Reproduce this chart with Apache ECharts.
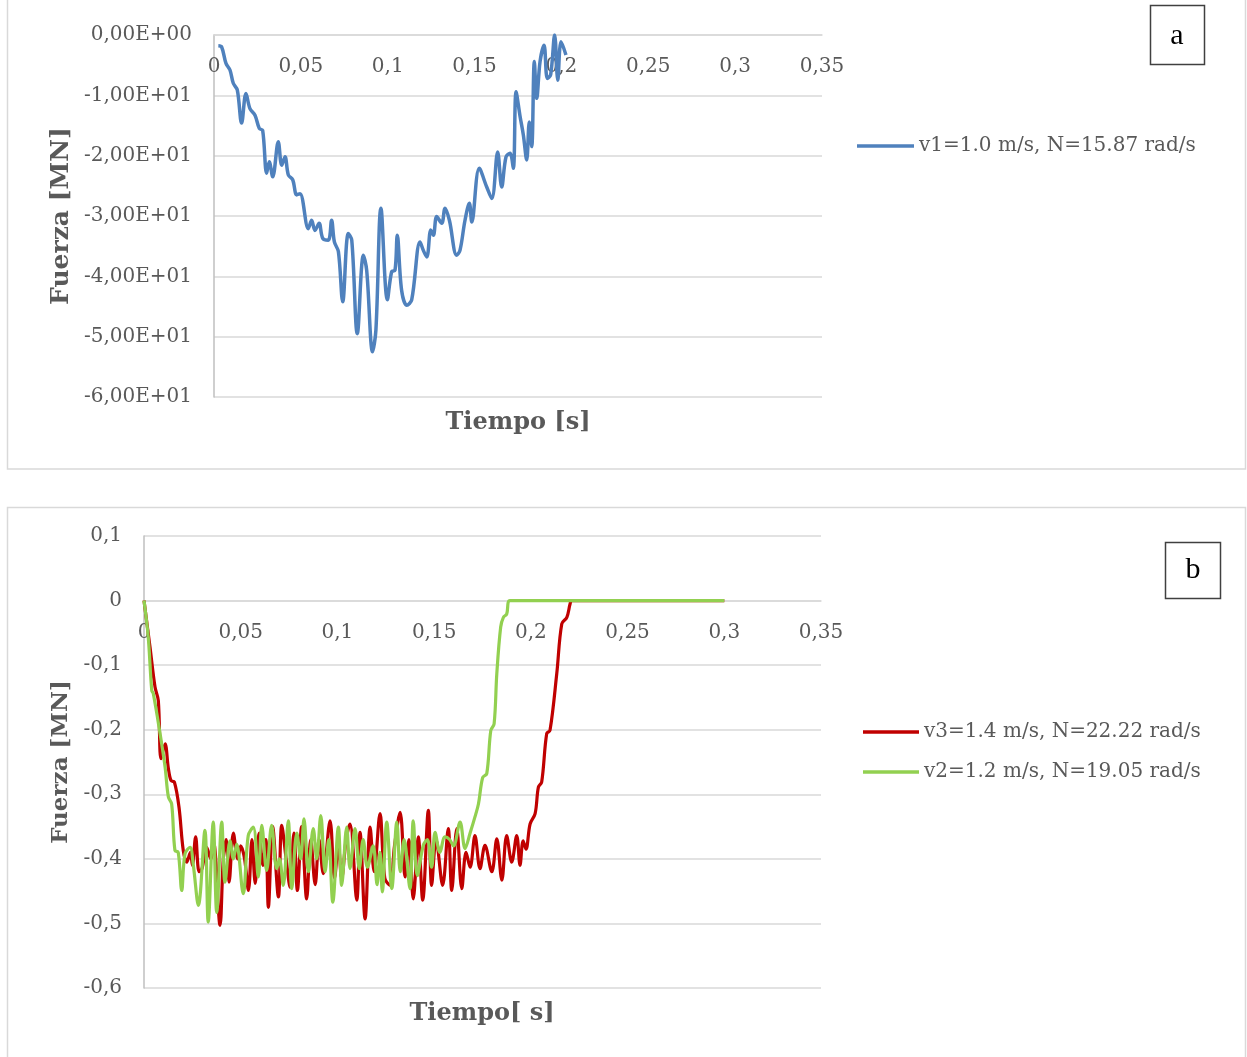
<!DOCTYPE html>
<html>
<head>
<meta charset="utf-8">
<title>Fuerza vs Tiempo</title>
<script src="https://cdn.jsdelivr.net/npm/echarts@6/dist/echarts.min.js"></script>
<style>
  html, body { margin: 0; padding: 0; background: #ffffff; }
  #chart { width: 1247px; height: 1057px; }
</style>
</head>
<body>
<div id="chart"></div>
<script>
// Panel a: force on the blade for v1
const timeA = [0.0025, 0.0044, 0.0069, 0.0092, 0.0111, 0.0134, 0.0159, 0.0184, 0.0207, 0.0236,
  0.0261, 0.0280, 0.0303, 0.0318, 0.0338, 0.0370, 0.0390, 0.0409, 0.0428, 0.0453,
  0.0476, 0.0495, 0.0543, 0.0562, 0.0581, 0.0605, 0.0626, 0.0658, 0.0677, 0.0693,
  0.0716, 0.0741, 0.0773, 0.0793, 0.0825, 0.0860, 0.0879, 0.0913, 0.0932, 0.0961,
  0.0998, 0.1023, 0.1042, 0.1055, 0.1080, 0.1110, 0.1138, 0.1186, 0.1205, 0.1225,
  0.1248, 0.1263, 0.1282, 0.1311, 0.1330, 0.1355, 0.1397, 0.1416, 0.1445, 0.1470,
  0.1484, 0.1527, 0.1570, 0.1599, 0.1633, 0.1656, 0.1681, 0.1704, 0.1723, 0.1739,
  0.1762, 0.1781, 0.1800, 0.1815, 0.1829, 0.1844, 0.1858, 0.1877, 0.1900, 0.1919,
  0.1938, 0.1961, 0.1979, 0.1998, 0.2026];
const forceA = [-1.8, -2.0, -4.7, -5.8, -8.0, -9.1, -14.6, -9.7, -12.2, -13.3,
  -15.5, -15.8, -22.9, -21.0, -23.5, -17.7, -21.6, -20.2, -23.2, -24.0,
  -26.5, -26.3, -32.1, -30.7, -32.4, -31.2, -33.7, -34.0, -30.7, -34.3,
  -35.9, -44.2, -32.9, -34.0, -49.5, -36.5, -39.0, -52.5, -48.9, -28.7,
  -43.9, -39.2, -39.0, -33.2, -42.3, -44.8, -43.9, -34.3, -35.7, -36.8,
  -32.3, -33.2, -30.1, -31.2, -28.7, -30.7, -36.5, -35.7, -30.7, -27.9,
  -31.0, -22.1, -25.2, -27.1, -19.4, -25.2, -20.2, -19.6, -22.1, -9.4,
  -13.5, -16.6, -20.7, -14.4, -18.5, -4.4, -10.5, -4.4, -1.7, -7.2,
  -6.6, 0.0, -7.5, -1.1, -3.3];

// Panel b: v3 (red)
const timeV3 = [0, 0.0031, 0.0057, 0.0074, 0.0088, 0.0109, 0.0126, 0.0140, 0.0157, 0.0181,
  0.0203, 0.0221, 0.0240, 0.0250, 0.0267, 0.0285, 0.0300, 0.0324, 0.0345, 0.0360,
  0.0393, 0.0410, 0.0425, 0.0440, 0.0462, 0.0485, 0.0500, 0.0520, 0.0540, 0.0558,
  0.0575, 0.0595, 0.0615, 0.0630, 0.0643, 0.0665, 0.0695, 0.0712, 0.0735, 0.0755,
  0.0775, 0.0793, 0.0815, 0.0841, 0.0862, 0.0885, 0.0905, 0.0927, 0.0962, 0.0985,
  0.1005, 0.1022, 0.1045, 0.1065, 0.1100, 0.1117, 0.1143, 0.1169, 0.1190, 0.1220,
  0.1245, 0.1272, 0.1295, 0.1324, 0.1350, 0.1370, 0.1392, 0.1418, 0.1441, 0.1470,
  0.1487, 0.1510, 0.1544, 0.1573, 0.1591, 0.1617, 0.1643, 0.1665, 0.1686, 0.1711,
  0.1737, 0.1763, 0.1798, 0.1824, 0.1850, 0.1875, 0.1901, 0.1927, 0.1944, 0.1960,
  0.1975, 0.1996, 0.2022, 0.2039, 0.2056, 0.2082, 0.2099, 0.2134, 0.2160, 0.2186,
  0.2203, 0.2211, 0.3000];
const forceV3 = [0, -0.072, -0.134, -0.155, -0.245, -0.222, -0.260, -0.279, -0.281, -0.320,
  -0.387, -0.405, -0.390, -0.410, -0.366, -0.420, -0.415, -0.382, -0.400, -0.375,
  -0.503, -0.400, -0.370, -0.436, -0.360, -0.400, -0.380, -0.400, -0.449, -0.370,
  -0.438, -0.360, -0.410, -0.370, -0.475, -0.350, -0.459, -0.348, -0.400, -0.444,
  -0.360, -0.449, -0.350, -0.462, -0.370, -0.440, -0.370, -0.423, -0.341, -0.430,
  -0.380, -0.430, -0.370, -0.346, -0.464, -0.359, -0.493, -0.351, -0.420, -0.330,
  -0.430, -0.441, -0.380, -0.328, -0.428, -0.370, -0.462, -0.366, -0.464, -0.325,
  -0.441, -0.370, -0.441, -0.353, -0.449, -0.353, -0.446, -0.390, -0.413, -0.364,
  -0.415, -0.379, -0.420, -0.369, -0.433, -0.364, -0.405, -0.364, -0.410, -0.372,
  -0.385, -0.346, -0.330, -0.289, -0.281, -0.206, -0.201, -0.113, -0.036, -0.026,
  -0.005, 0, 0];

// Panel b: v2 (green)
const timeV2 = [0, 0.0022, 0.0040, 0.0048, 0.0083, 0.0109, 0.0126, 0.0143, 0.0160, 0.0177,
  0.0195, 0.0212, 0.0238, 0.0255, 0.0281, 0.0315, 0.0332, 0.0358, 0.0376, 0.0402,
  0.0419, 0.0445, 0.0462, 0.0479, 0.0513, 0.0539, 0.0565, 0.0591, 0.0609, 0.0634,
  0.0660, 0.0686, 0.0700, 0.0720, 0.0746, 0.0764, 0.0790, 0.0810, 0.0827, 0.0850,
  0.0875, 0.0893, 0.0914, 0.0936, 0.0955, 0.0976, 0.1005, 0.1022, 0.1048, 0.1065,
  0.1091, 0.1113, 0.1133, 0.1155, 0.1185, 0.1205, 0.1220, 0.1232, 0.1255, 0.1281,
  0.1307, 0.1325, 0.1345, 0.1375, 0.1392, 0.1413, 0.1444, 0.1465, 0.1487, 0.1505,
  0.1530, 0.1556, 0.1580, 0.1600, 0.1634, 0.1660, 0.1686, 0.1711, 0.1729, 0.1751,
  0.1772, 0.1793, 0.1810, 0.1824, 0.1844, 0.1858, 0.1875, 0.1892, 0.3000];
const forceV2 = [0, -0.057, -0.139, -0.144, -0.206, -0.258, -0.304, -0.315, -0.387, -0.390,
  -0.449, -0.392, -0.382, -0.410, -0.472, -0.356, -0.498, -0.343, -0.483, -0.343,
  -0.436, -0.372, -0.400, -0.377, -0.454, -0.364, -0.351, -0.428, -0.348, -0.418,
  -0.348, -0.415, -0.400, -0.441, -0.341, -0.446, -0.360, -0.400, -0.338, -0.420,
  -0.353, -0.400, -0.333, -0.420, -0.370, -0.467, -0.351, -0.441, -0.351, -0.415,
  -0.353, -0.415, -0.370, -0.413, -0.380, -0.440, -0.390, -0.451, -0.343, -0.446,
  -0.343, -0.420, -0.370, -0.446, -0.341, -0.426, -0.379, -0.370, -0.413, -0.359,
  -0.390, -0.366, -0.370, -0.380, -0.343, -0.384, -0.360, -0.335, -0.315, -0.274,
  -0.268, -0.201, -0.191, -0.113, -0.041, -0.026, -0.021, 0, 0];

const nameA = 'v1=1.0 m/s, N=15.87 rad/s';
const nameV3 = 'v3=1.4 m/s, N=22.22 rad/s';
const nameV2 = 'v2=1.2 m/s, N=19.05 rad/s';

// axis ranges
const timeMin = 0, timeMax = 0.35, timeStep = 0.05;
const forceAMin = -60, forceAMax = 0, forceAStep = 10;
const forceBMin = -0.6, forceBMax = 0.1, forceBStep = 0.1;

const pairs = (xs, ys) => xs.map((x, i) => [x, ys[i]]);

const FONT = 'DejaVu Serif';
const TEXT = '#595959';
const GRID_LINE = '#d9d9d9';
const AXIS_LINE = '#bfbfbf';

const gridA = { left: 214, top: 35, width: 608, height: 362 };
const gridB = { left: 144, top: 536, width: 677, height: 452 };

const timeLabel = v => (v === 0 ? '0' : String(+v.toFixed(2)).replace('.', ','));
const sciLabel = v => {
  const [m, e] = v.toExponential(2).split('e');
  const sign = e[0] === '-' ? '-' : '+';
  const digits = e.replace(/[+-]/, '').padStart(2, '0');
  return m.replace('.', ',') + 'E' + sign + digits;
};
const decLabel = v => (Math.abs(v) < 1e-9 ? '0' : (+v.toFixed(1)).toString().replace('.', ','));

const labelStyle = { fontFamily: FONT, fontSize: 20, color: TEXT };

// The time axis crosses the force axis at zero; it sits at the top edge and the
// labels hang below the line, inside the plot.
function timeAxis(gridIndex, zeroOffset) {
  return {
    type: 'value', gridIndex, position: 'top', offset: -zeroOffset,
    min: timeMin, max: timeMax, interval: timeStep,
    axisLine: { show: true, onZero: false, lineStyle: { color: GRID_LINE, width: 1.5 } },
    axisTick: { show: false },
    splitLine: { show: false },
    axisLabel: Object.assign({ inside: true, margin: 22, formatter: timeLabel }, labelStyle)
  };
}

const zeroOffsetB = gridB.height * (forceBMax - 0) / (forceBMax - forceBMin);

const chart = echarts.init(document.getElementById('chart'), null, { renderer: 'canvas' });

chart.setOption({
  backgroundColor: '#ffffff',
  animation: false,
  grid: [gridA, gridB],
  xAxis: [timeAxis(0, 0), timeAxis(1, zeroOffsetB)],
  yAxis: [
    {
      type: 'value', gridIndex: 0, min: forceAMin, max: forceAMax, interval: forceAStep,
      name: 'Fuerza [MN]', nameLocation: 'middle', nameRotate: 90, nameGap: 140,
      nameTextStyle: { fontFamily: FONT, fontSize: 25, fontWeight: 'bold', color: TEXT },
      axisLine: { show: true, onZero: false, lineStyle: { color: AXIS_LINE, width: 1.5 } },
      axisTick: { show: false },
      splitLine: { lineStyle: { color: GRID_LINE, width: 1.5 } },
      axisLabel: Object.assign({ margin: 22, formatter: sciLabel }, labelStyle)
    },
    {
      type: 'value', gridIndex: 1, min: forceBMin, max: forceBMax, interval: forceBStep,
      name: 'Fuerza [MN]', nameLocation: 'middle', nameRotate: 90, nameGap: 70,
      nameTextStyle: { fontFamily: FONT, fontSize: 23, fontWeight: 'bold', color: TEXT },
      axisLine: { show: true, onZero: false, lineStyle: { color: AXIS_LINE, width: 1.5 } },
      axisTick: { show: false },
      splitLine: { lineStyle: { color: GRID_LINE, width: 1.5 } },
      axisLabel: Object.assign({ margin: 22, formatter: decLabel }, labelStyle)
    }
  ],
  legend: [
    {
      data: [nameA], left: 852, top: 131, orient: 'vertical',
      icon: 'rect', itemWidth: 57, itemHeight: 3.5,
      textStyle: { fontFamily: FONT, fontSize: 20, color: TEXT, lineHeight: 20 }
    },
    {
      data: [nameV3, nameV2], left: 858, top: 717, orient: 'vertical',
      icon: 'rect', itemWidth: 56, itemHeight: 3.5, itemGap: 20,
      textStyle: { fontFamily: FONT, fontSize: 20, color: TEXT, lineHeight: 20 }
    }
  ],
  series: [
    {
      name: nameA, type: 'line', xAxisIndex: 0, yAxisIndex: 0,
      data: pairs(timeA, forceA), showSymbol: false, symbol: 'none', smooth: 0.35,
      lineStyle: { color: '#4f81bd', width: 3.5 }, itemStyle: { color: '#4f81bd' }
    },
    {
      name: nameV3, type: 'line', xAxisIndex: 1, yAxisIndex: 1,
      data: pairs(timeV3, forceV3), showSymbol: false, symbol: 'none', smooth: 0.35,
      lineStyle: { color: '#c00000', width: 3.2 }, itemStyle: { color: '#c00000' }
    },
    {
      name: nameV2, type: 'line', xAxisIndex: 1, yAxisIndex: 1,
      data: pairs(timeV2, forceV2), showSymbol: false, symbol: 'none', smooth: 0.35,
      lineStyle: { color: '#92d050', width: 3.2 }, itemStyle: { color: '#92d050' }
    }
  ],
  graphic: [
    // panel frames
    { type: 'rect', shape: { x: 7.5, y: -5, width: 1238, height: 474 }, style: { fill: null, stroke: GRID_LINE, lineWidth: 1.5 }, silent: true, z: -10 },
    { type: 'rect', shape: { x: 7.5, y: 507.5, width: 1238, height: 560 }, style: { fill: null, stroke: GRID_LINE, lineWidth: 1.5 }, silent: true, z: -10 },
    // x-axis titles
    { type: 'text', x: 518, y: 423, style: { text: 'Tiempo [s]', fontFamily: FONT, fontSize: 24, fontWeight: 'bold', fill: TEXT, align: 'center', verticalAlign: 'middle' } },
    { type: 'text', x: 482, y: 1014, style: { text: 'Tiempo[ s]', fontFamily: FONT, fontSize: 24, fontWeight: 'bold', fill: TEXT, align: 'center', verticalAlign: 'middle' } },
    // panel tags
    { type: 'rect', shape: { x: 1150.5, y: 5.5, width: 54, height: 59 }, style: { fill: '#ffffff', stroke: '#404040', lineWidth: 1.5 } },
    { type: 'text', x: 1177, y: 36, style: { text: 'a', fontFamily: 'Liberation Serif', fontSize: 30, fill: '#000000', align: 'center', verticalAlign: 'middle' } },
    { type: 'rect', shape: { x: 1165.5, y: 542.5, width: 55, height: 56 }, style: { fill: '#ffffff', stroke: '#404040', lineWidth: 1.5 } },
    { type: 'text', x: 1193, y: 570, style: { text: 'b', fontFamily: 'Liberation Serif', fontSize: 30, fill: '#000000', align: 'center', verticalAlign: 'middle' } }
  ]
});
</script>
</body>
</html>
